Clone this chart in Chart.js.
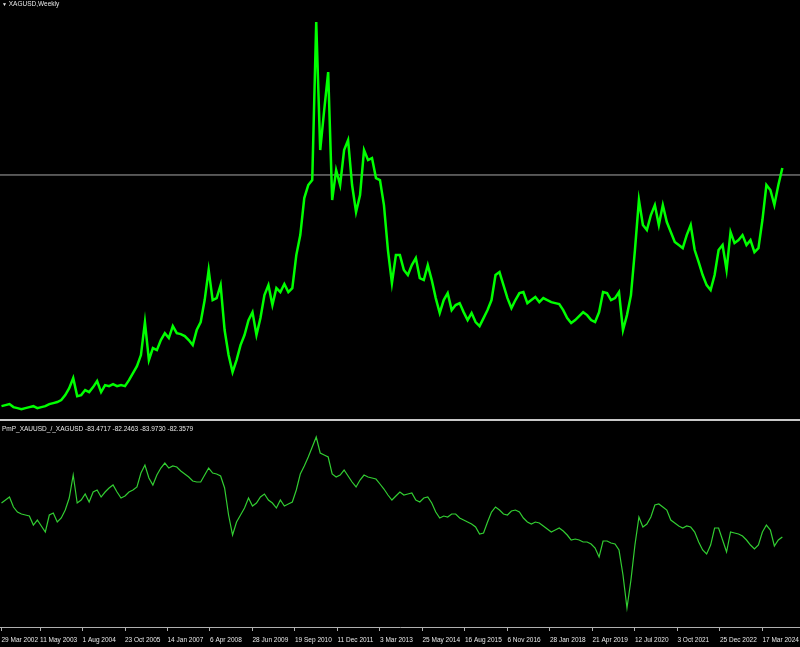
<!DOCTYPE html>
<html>
<head>
<meta charset="utf-8">
<title>XAGUSD Weekly</title>
<script src="https://cdn.jsdelivr.net/npm/chart.js@4.4.1/dist/chart.umd.min.js"></script>
<style>
  html, body { margin: 0; padding: 0; background: #000; overflow: hidden; }
  #wrap { position: relative; width: 800px; height: 647px; background: #000; }
  canvas { position: absolute; left: 0; }
  #priceChart { top: 0; }
  #ratioChart { top: 421px; }
  #sep { position: absolute; left: 0; top: 419px; width: 800px; height: 2px; background: #c8c8c8; }
  .lbl { position: absolute; left: 2px; font: 6.5px "Liberation Sans", Arial, sans-serif; color: #e6e6e6; white-space: nowrap; line-height: 8px; }
  .tri { font-size: 5px; }
</style>
</head>
<body>
<div id="wrap">
  <canvas id="priceChart" width="800" height="419"></canvas>
  <div id="sep"></div>
  <canvas id="ratioChart" width="800" height="226"></canvas>
  <div class="lbl" style="top:0"><span class="tri">▼</span> XAGUSD,Weekly</div>
  <div class="lbl" id="indLabel" style="top:425px"></div>
</div>
<script>
// one point every 6 weekly bars, starting 29 Mar 2002
const stepWeeks = 6;

const tickWeeks = [0, 58, 122, 186, 250, 314, 378, 442, 506, 570, 634, 698, 762, 826, 890, 954, 1018, 1082, 1146];
const tickLabels = ["29 Mar 2002", "11 May 2003", "1 Aug 2004", "23 Oct 2005", "14 Jan 2007", "6 Apr 2008",
  "28 Jun 2009", "19 Sep 2010", "11 Dec 2011", "3 Mar 2013", "25 May 2014", "16 Aug 2015", "6 Nov 2016",
  "28 Jan 2018", "21 Apr 2019", "12 Jul 2020", "3 Oct 2021", "25 Dec 2022", "17 Mar 2024"];

// XAGUSD weekly (USD)
const silverClose = [
  4.43, 4.55, 4.67, 4.32, 4.20, 4.08, 4.20, 4.32, 4.43, 4.20,
  4.32, 4.43, 4.67, 4.79, 4.91, 5.14, 5.73, 6.55, 7.73, 5.61,
  5.73, 6.32, 6.08, 6.67, 7.38, 6.08, 6.91, 6.79, 7.02, 6.79,
  6.91, 6.79, 7.49, 8.32, 9.14, 10.44, 14.32, 9.85, 11.26, 11.02,
  12.20, 13.02, 12.44, 13.85, 13.02, 12.91, 12.67, 12.20, 11.61, 13.38,
  14.32, 16.91, 20.44, 16.91, 17.14, 18.67, 13.38, 10.44, 8.44, 9.85,
  11.61, 12.79, 14.55, 15.49, 12.79, 14.79, 17.49, 18.67, 16.32, 18.32,
  17.85, 18.79, 17.85, 18.32, 22.20, 24.55, 28.91, 30.44, 31.02, 49.61,
  34.55, 39.26, 43.73, 28.67, 32.20, 30.44, 34.55, 35.73, 30.44, 27.26,
  29.26, 34.55, 33.38, 33.61, 31.26, 31.02, 28.08, 22.79, 18.91, 22.20,
  22.20, 20.44, 19.85, 21.02, 21.85, 19.49, 19.26, 21.02, 19.26, 17.14,
  15.38, 16.91, 17.73, 15.73, 16.32, 16.55, 15.49, 14.55, 15.38, 14.32,
  13.85, 14.79, 15.73, 16.91, 19.85, 20.20, 18.67, 17.14, 15.96, 16.91,
  17.73, 17.85, 16.55, 16.91, 17.26, 16.67, 17.14, 16.91, 16.67, 16.55,
  16.44, 15.73, 14.79, 14.20, 14.55, 15.02, 15.49, 15.14, 14.55, 14.32,
  15.49, 17.85, 17.73, 16.91, 17.14, 17.85, 13.38, 15.14, 17.49, 22.79,
  28.67, 25.73, 25.14, 26.91, 28.08, 25.73, 28.08, 26.08, 24.91, 23.73,
  23.38, 23.02, 24.55, 25.73, 22.79, 21.38, 19.85, 18.67, 18.08, 19.85,
  22.79, 23.38, 20.44, 24.91, 23.61, 23.96, 24.55, 23.38, 23.96, 22.55,
  23.02, 26.32, 30.44, 29.85, 28.08, 30.44, 32.44
];

// PmP_XAUUSD_/_XAGUSD (negative gold/silver ratio)
const ratioLine = [
  -65.24, -63.73, -62.22, -67.25, -69.77, -70.78, -71.28, -71.79, -76.32, -73.80,
  -76.82, -79.84, -71.28, -70.28, -74.81, -72.79, -68.77, -62.72, -51.14, -65.24,
  -63.73, -60.71, -64.74, -59.70, -58.70, -62.22, -59.70, -57.69, -56.18, -59.70,
  -62.72, -61.72, -59.70, -58.70, -57.18, -50.14, -46.11, -52.65, -56.18, -51.14,
  -47.62, -45.10, -47.62, -46.61, -47.12, -49.13, -50.64, -52.15, -54.16, -54.67,
  -54.67, -51.14, -47.62, -50.14, -50.64, -51.65, -57.69, -71.28, -81.35, -74.81,
  -71.28, -67.76, -62.72, -66.75, -65.24, -62.22, -60.71, -63.73, -65.24, -67.76,
  -63.73, -66.75, -65.74, -64.74, -58.70, -50.64, -46.61, -42.08, -37.05, -32.01,
  -40.07, -41.07, -42.08, -50.64, -52.15, -51.14, -48.63, -51.65, -54.67, -57.18,
  -53.66, -51.14, -52.15, -52.65, -53.16, -55.67, -58.19, -61.21, -63.73, -61.72,
  -59.70, -61.21, -60.71, -60.21, -63.73, -64.74, -62.72, -62.22, -65.24, -69.77,
  -72.79, -71.79, -72.29, -70.78, -70.78, -72.79, -73.80, -74.81, -75.82, -77.33,
  -80.85, -80.35, -74.81, -69.77, -67.25, -68.77, -70.78, -71.28, -69.27, -68.77,
  -69.77, -72.79, -74.81, -75.82, -74.81, -75.31, -76.82, -78.34, -79.84, -78.84,
  -77.83, -79.34, -81.35, -83.87, -83.37, -83.87, -84.88, -84.88, -85.88, -87.90,
  -92.43, -84.38, -84.38, -85.38, -85.88, -88.91, -101.49, -118.11, -104.01, -86.39,
  -72.29, -77.33, -75.82, -72.29, -66.25, -65.74, -67.25, -68.77, -73.80, -75.31,
  -76.82, -77.83, -76.82, -77.33, -79.84, -84.88, -88.91, -90.92, -86.39, -77.83,
  -77.83, -83.87, -89.91, -79.84, -80.35, -80.85, -81.85, -83.87, -86.39, -88.40,
  -86.39, -79.84, -76.32, -78.84, -86.89, -83.87, -82.36
];

const bidLevel = 31.62;
const indicatorValues = ["-83.4717", "-82.2463", "-83.9730", "-82.3579"];

document.getElementById("indLabel").textContent = "PmP_XAUUSD_/_XAGUSD " + indicatorValues.join(" ");

const xMin = -2.26;
const xMax = 1202.6;
const toPoints = arr => arr.map((v, i) => ({ x: i * stepWeeks, y: v }));

const common = {
  responsive: false,
  animation: false,
  events: [],
  layout: { padding: 0 },
  plugins: { legend: { display: false }, tooltip: { enabled: false }, title: { display: false } },
  elements: { point: { radius: 0 }, line: { tension: 0 } }
};

new Chart(document.getElementById("priceChart"), {
  type: "line",
  data: {
    datasets: [
      {
        data: toPoints(silverClose),
        borderColor: "#00ff00",
        borderWidth: 2.5,
        order: 1
      },
      {
        data: [{ x: xMin, y: bidLevel }, { x: xMax, y: bidLevel }],
        borderColor: "#a8a8a8",
        borderWidth: 1,
        order: 2
      }
    ]
  },
  options: {
    ...common,
    scales: {
      x: { type: "linear", min: xMin, max: xMax, display: false },
      y: { min: 2.92, max: 52.2, display: false }
    }
  }
});

new Chart(document.getElementById("ratioChart"), {
  type: "line",
  data: {
    datasets: [
      {
        data: toPoints(ratioLine),
        borderColor: "#32cd32",
        borderWidth: 1.2
      }
    ]
  },
  options: {
    ...common,
    scales: {
      x: {
        type: "linear",
        min: xMin,
        max: xMax,
        bounds: "data",
        afterBuildTicks: s => { s.ticks = tickWeeks.map(v => ({ value: v })); },
        afterFit: s => { s.height = 20; s.paddingLeft = 0; s.paddingRight = 0; },
        grid: { drawOnChartArea: false, drawTicks: true, tickLength: 4, color: "#b0b0b0" },
        border: { display: true, color: "#b0b0b0", width: 1 },
        ticks: {
          align: "start",
          autoSkip: false,
          maxRotation: 0,
          minRotation: 0,
          padding: 5,
          color: "#e6e6e6",
          font: { family: "Liberation Sans", size: 6.5 },
          callback: (v, i) => tickLabels[i]
        }
      },
      y: { min: -127.67, max: -23.95, display: false }
    }
  }
});
</script>
</body>
</html>
